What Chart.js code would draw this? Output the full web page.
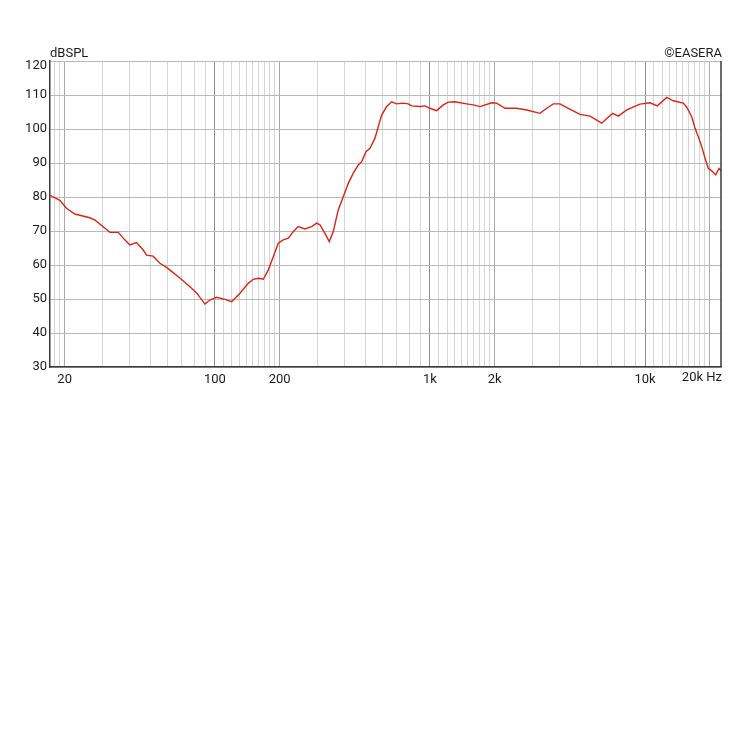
<!DOCTYPE html>
<html>
<head>
<meta charset="utf-8">
<title>EASERA frequency response</title>
<script src="https://cdn.jsdelivr.net/npm/chart.js@4.4.1/dist/chart.umd.min.js"></script>
<style>
  html, body { margin: 0; padding: 0; background: #fff; }
  #wrap { width: 750px; height: 750px; }
</style>
</head>
<body>
<div id="wrap"><canvas id="fr" width="750" height="750"></canvas></div>
<script>
const freqHz = [
    17.1, 19.0, 20.4, 22.3, 26.2, 27.7, 30.8, 32.5, 35.5, 38.1,
    40.2, 43.2, 46.4, 48.1, 51.6, 55.5, 59.6, 61.8, 68.7, 76.5,
    82.2, 89.8, 94.8, 101.8, 111.3, 119.6, 130.7, 142.8, 150.7, 159.0,
    167.8, 177.0, 186.7, 197.0, 207.8, 219.3, 231.3, 244.0, 262.2, 281.7,
    297.2, 307.9, 324.8, 340.1, 354.9, 374.5, 395.1, 416.9, 439.9, 464.1,
    481.3, 504, 526, 555, 575, 596, 629, 664, 700, 751,
    793, 822, 898, 948, 1000, 1074, 1153, 1217, 1307, 1482,
    1590, 1708, 1936, 2043, 2233, 2531, 2818, 3248, 3490, 3745,
    4024, 4399, 4986, 5550, 6289, 6636, 7076, 7512, 8222, 9478,
    10550, 11406, 12615, 13541, 15073, 15631, 16493, 17087, 17700, 18356,
    19017, 19700, 20432, 21324, 22090, 22736
];
const levelDb = [
    80.5, 79.0, 76.7, 75.0, 73.9, 73.2, 70.8, 69.6, 69.6, 67.4,
    65.9, 66.6, 64.4, 62.9, 62.6, 60.5, 59.3, 58.5, 56.2, 53.6,
    51.8, 48.5, 49.7, 50.5, 49.9, 49.2, 51.7, 54.6, 55.8, 56.1,
    55.8, 58.5, 62.4, 66.4, 67.4, 67.9, 69.8, 71.3, 70.6, 71.3,
    72.3, 71.8, 69.3, 66.9, 69.8, 76.2, 80.1, 84.0, 87.0, 89.4,
    90.4, 93.3, 94.3, 97.3, 100.7, 104.1, 106.6, 108.0, 107.4, 107.6,
    107.4, 106.8, 106.6, 106.8, 106.1, 105.4, 107.1, 107.9, 108.0, 107.4,
    107.1, 106.6, 107.7, 107.6, 106.1, 106.1, 105.6, 104.6, 106.1, 107.4,
    107.4, 106.1, 104.3, 103.8, 101.7, 103.1, 104.6, 103.8, 105.6, 107.3,
    107.7, 106.8, 109.3, 108.3, 107.6, 106.4, 103.6, 100.2, 97.7, 94.8,
    91.4, 88.4, 87.7, 86.5, 88.4, 87.5
];

// axis settings
const freqMin = 17.1;
const freqMax = 22560;
const dbMin = 30;
const dbMax = 120;
const dbStep = 10;

// vertical grid lines and which of them carry a label
const gridHz = [
    18, 19, 20, 30, 40, 50, 60, 70, 80, 90,
    100, 110, 120, 130, 140, 150, 160, 170, 180, 190,
    200, 300, 400, 500, 600, 700, 800, 900,
    1000, 1100, 1200, 1300, 1400, 1500, 1600, 1700, 1800, 1900,
    2000, 3000, 4000, 5000, 6000, 7000, 8000, 9000,
    10000, 11000, 12000, 13000, 14000, 15000, 16000, 17000, 18000, 19000,
    20000
];
const labelHz = [20, 100, 200, 1000, 2000, 10000];
const labelText = ['20', '100', '200', '1k', '2k', '10k'];
const decadeHz = [100, 1000, 10000];
const majorHz = [20, 200, 2000, 20000];

const axisFont = { family: 'Roboto, "Liberation Sans", sans-serif', size: 13 };
const textColor = '#1c1c1c';

// extra captions: unit, copyright, top y label, last x label, right frame
const captions = {
    id: 'captions',
    afterDraw(chart) {
        const { ctx, chartArea } = chart;
        ctx.save();
        ctx.strokeStyle = '#3a3a3a';
        ctx.lineWidth = 1.5;
        ctx.beginPath();
        ctx.moveTo(chartArea.right, chartArea.top);
        ctx.lineTo(chartArea.right, chartArea.bottom);
        ctx.stroke();

        ctx.fillStyle = textColor;
        ctx.font = axisFont.size + 'px ' + axisFont.family;
        ctx.textBaseline = 'alphabetic';
        ctx.textAlign = 'left';
        ctx.fillText('dBSPL', chartArea.left, chartArea.top - 4);
        ctx.textAlign = 'right';
        ctx.fillText('\u00A9EASERA', chartArea.right + 1, chartArea.top - 4);
        ctx.textBaseline = 'middle';
        ctx.fillText(String(dbMax), chartArea.left - 3, chartArea.top + 5);
        ctx.fillText('20k Hz', chartArea.right + 1, chartArea.bottom + 11);
        ctx.restore();
    }
};

document.addEventListener('DOMContentLoaded', function() {
    const points = freqHz.map((f, i) => ({ x: f, y: levelDb[i] }));

    new Chart(document.getElementById('fr'), {
        type: 'line',
        data: {
            datasets: [{
                label: 'SPL',
                data: points,
                borderColor: '#dc2414',
                borderWidth: 1.4,
                pointRadius: 0,
                tension: 0,
                fill: false
            }]
        },
        options: {
            responsive: false,
            animation: false,
            layout: { padding: { top: 61, right: 29, bottom: 358, left: 0 } },
            plugins: {
                legend: { display: false },
                tooltip: { enabled: false }
            },
            scales: {
                x: {
                    type: 'logarithmic',
                    min: freqMin,
                    max: freqMax,
                    afterFit: s => { s.height = 25; },
                    afterBuildTicks: s => { s.ticks = gridHz.map(v => ({ value: v })); },
                    border: { display: true, color: '#3a3a3a', width: 1.5 },
                    grid: {
                        drawTicks: false,
                        lineWidth: 1,
                        color: ctx => {
                            const v = ctx.tick ? ctx.tick.value : 0;
                            if (decadeHz.includes(v)) return '#8c8c8c';
                            if (majorHz.includes(v)) return '#a9a9a9';
                            return '#d6d6d6';
                        }
                    },
                    ticks: {
                        autoSkip: false,
                        maxRotation: 0,
                        padding: 5,
                        color: textColor,
                        font: axisFont,
                        callback: v => {
                            const i = labelHz.indexOf(v);
                            return i >= 0 ? labelText[i] : '';
                        }
                    }
                },
                y: {
                    min: dbMin,
                    max: dbMax,
                    afterFit: s => { s.width = 50; },
                    border: { display: true, color: '#3a3a3a', width: 1.5 },
                    grid: {
                        drawTicks: false,
                        color: '#b9b9b9'
                    },
                    ticks: {
                        stepSize: dbStep,
                        padding: 3,
                        color: textColor,
                        font: axisFont,
                        // top label is drawn by the captions plugin, a little lower
                        callback: v => (v === dbMax ? '' : v)
                    }
                }
            }
        },
        plugins: [captions]
    });
});
</script>
</body>
</html>
